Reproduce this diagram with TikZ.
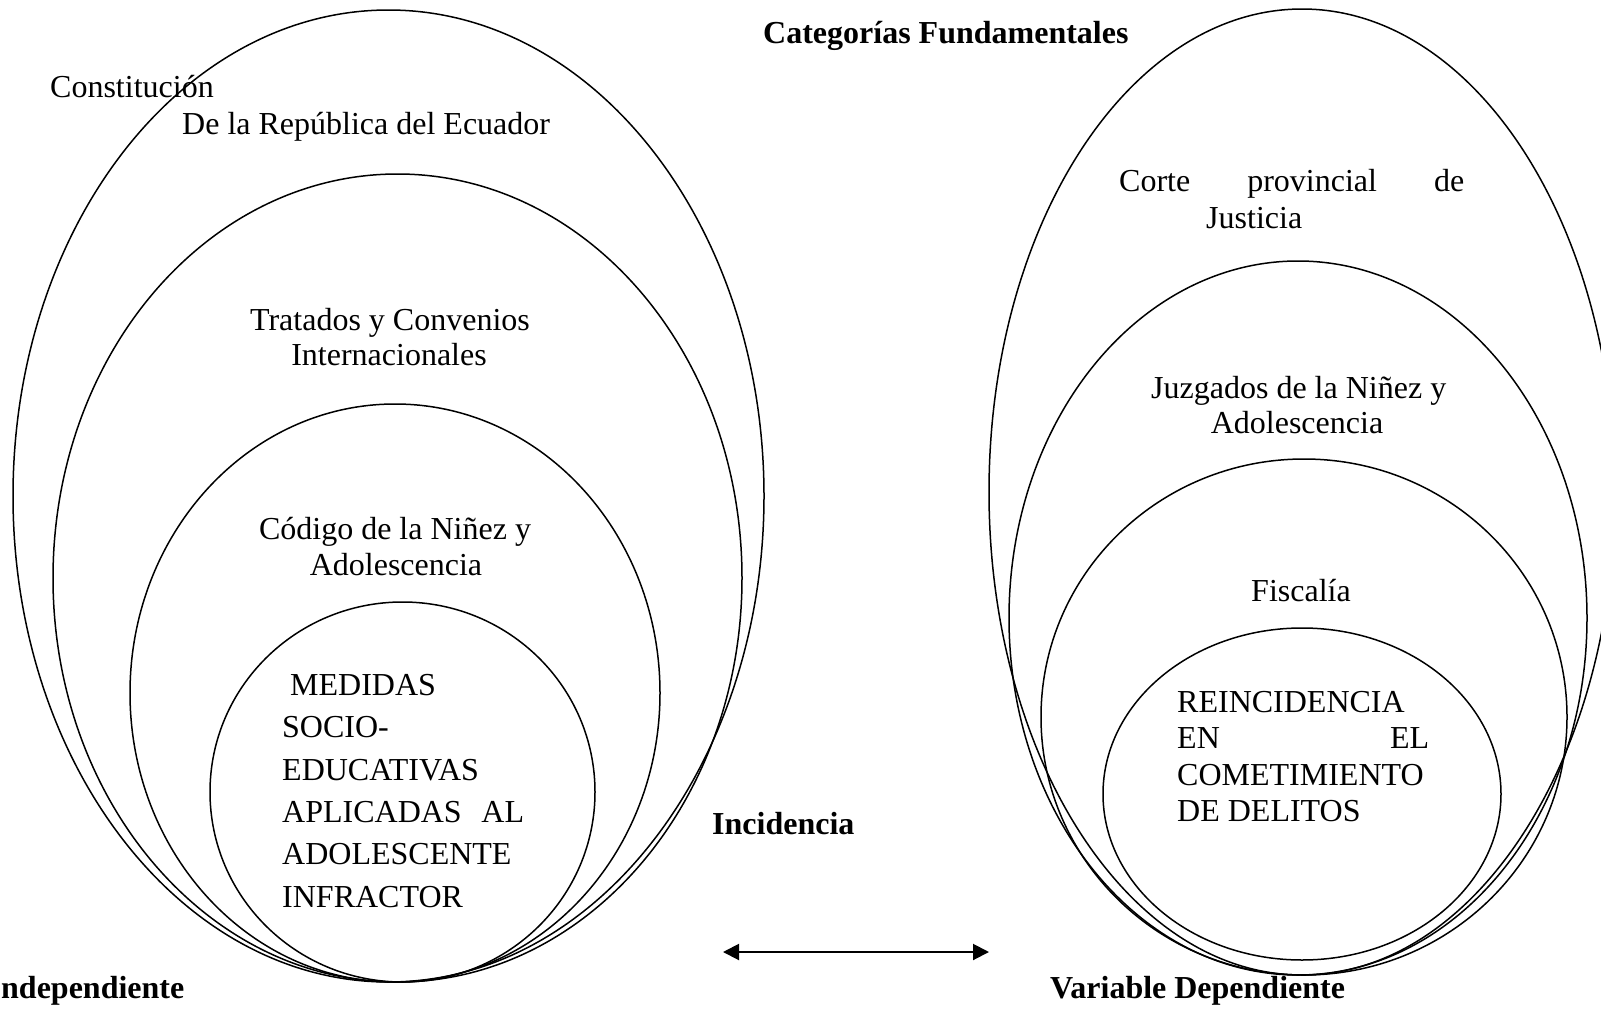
\documentclass[tikz,border=0pt]{standalone}
\usepackage{fontspec}
\setmainfont{Liberation Serif}
\usetikzlibrary{arrows.meta}
\begin{document}
\begin{tikzpicture}[x=1pt,y=-1pt,
  txt/.style={inner sep=0pt, font=\fontsize{32}{37}\selectfont},
  lbl/.style={inner sep=0pt, font=\fontsize{32}{37}\selectfont\bfseries},
  ring/.style={draw=black, line width=1.5pt},
  link/.style={line width=2pt, {Triangle[length=16pt,width=16pt]}-{Triangle[length=16pt,width=16pt]}}]
\useasboundingbox (0,0) rectangle (1601,1009);
\fill[white] (0,0) rectangle (1601,1009);
\begin{scope}
\clip (0,0) rectangle (1601,1009);
% left group
\draw[ring] (388.5,496) ellipse [x radius=375.5pt, y radius=486pt];
\draw[ring] (397.5,578) ellipse [x radius=344.5pt, y radius=404pt];
\draw[ring] (395,693) ellipse [x radius=265pt, y radius=289pt];
\draw[ring] (402.5,792) ellipse [x radius=192.5pt, y radius=190pt];
% right group
\draw[ring] (1302,492) ellipse [x radius=313pt, y radius=483pt];
\draw[ring] (1298,618) ellipse [x radius=289pt, y radius=357pt];
\draw[ring] (1304,717) ellipse [x radius=263pt, y radius=258pt];
\draw[ring] (1302,794) ellipse [x radius=199pt, y radius=166pt];
\end{scope}
% texts
\node[lbl, anchor=base west] (cat) at (763,43) {Categorías Fundamentales};
\node[txt, anchor=base west] (const) at (50,97) {Constitución};
\node[txt, anchor=base west] (rep) at (182,134) {De la República del Ecuador};
\node[txt, anchor=base] (trat) at (390,330) {Tratados y Convenios};
\node[txt, anchor=base] (inter) at (389,365) {Internacionales};
\node[txt, anchor=base] (cod) at (395,539) {Código de la Niñez y};
\node[txt, anchor=base] (adolA) at (396,575) {Adolescencia};
\node[txt, anchor=base west] (m1) at (290,695) {MEDIDAS};
\node[txt, anchor=base west] (m2) at (282,737) {SOCIO-};
\node[txt, anchor=base west] (m3) at (282,780) {EDUCATIVAS};
\node[txt, anchor=base west] (m4) at (282,822) {\makebox[242pt][s]{APLICADAS AL}};
\node[txt, anchor=base west] (m5) at (282,864) {ADOLESCENTE};
\node[txt, anchor=base west] (m6) at (282,907) {INFRACTOR};
\node[lbl, anchor=base west] (inc) at (712,834) {Incidencia};
\node[lbl, anchor=base west] (indep) at (1,998) {ndependiente};
\node[lbl, anchor=base west] (dep) at (1050,998) {Variable Dependiente};
\node[txt, anchor=base west] (corte) at (1119,191) {\makebox[345pt][s]{Corte provincial de}};
\node[txt, anchor=base west] (just) at (1206,228) {Justicia};
\node[txt, anchor=base west] (juz) at (1151,398) {Juzgados de la Niñez y};
\node[txt, anchor=base] (adolB) at (1297,433) {Adolescencia};
\node[txt, anchor=base] (fisc) at (1301,601) {Fiscalía};
\node[txt, anchor=base west] (r1) at (1177,712) {REINCIDENCIA};
\node[txt, anchor=base west] (r2) at (1177,748) {\makebox[252pt][s]{EN EL}};
\node[txt, anchor=base west] (r3) at (1177,785) {COMETIMIENTO};
\node[txt, anchor=base west] (r4) at (1177,821) {DE DELITOS};
% arrow
\coordinate (aL) at (723,952);
\coordinate (aR) at (989,952);
\draw[link] (aL) -- (aR);
\end{tikzpicture}
\end{document}
